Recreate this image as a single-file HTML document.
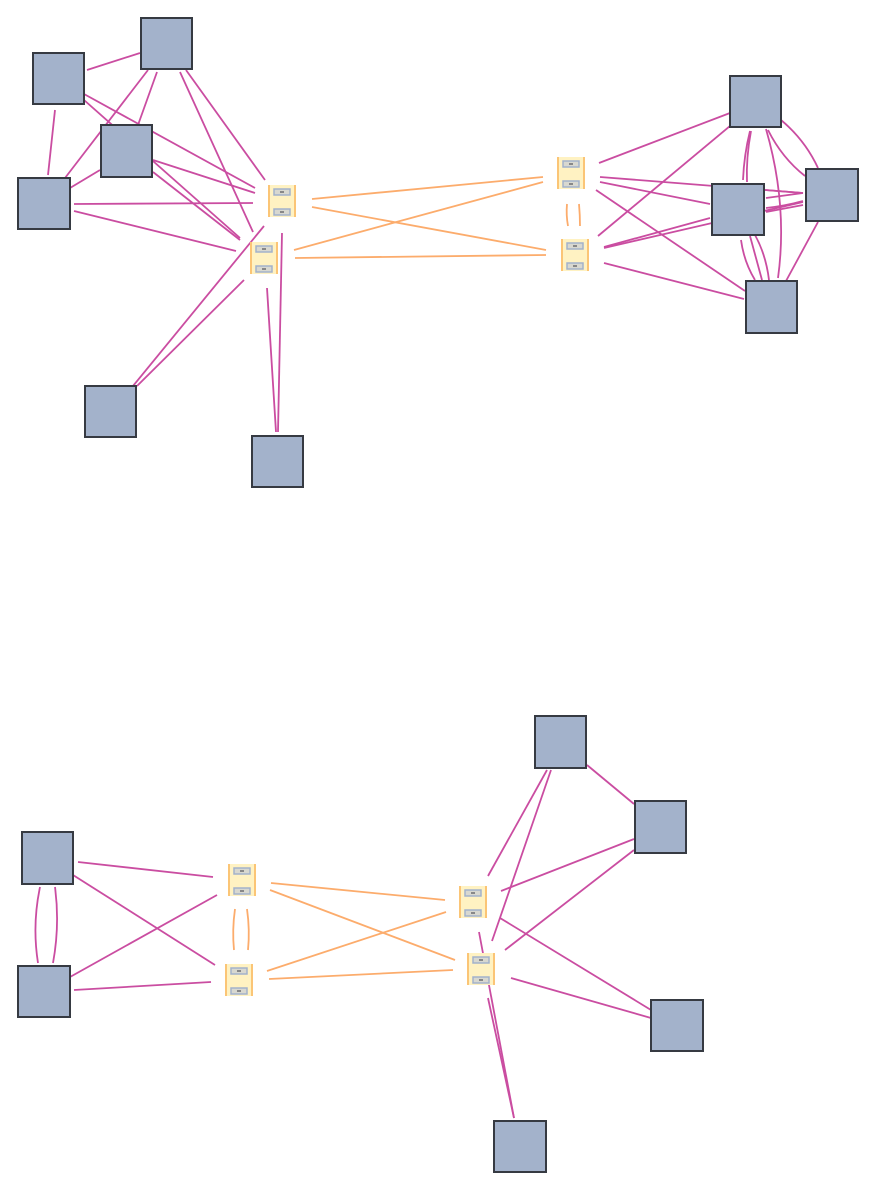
<!DOCTYPE html>
<html><head><meta charset="utf-8"><style>
html,body{margin:0;padding:0;background:#fff;}
svg{display:block}
</style></head><body>
<svg width="876" height="1190" viewBox="0 0 876 1190" xmlns="http://www.w3.org/2000/svg">
<defs>
<g id="sw">
<rect x="-14" y="-16" width="28" height="32" fill="#fff2c2"/>
<rect x="-14" y="-16" width="2" height="32" fill="#fbc576"/>
<rect x="12" y="-16" width="2" height="32" fill="#fbc576"/>
<rect x="-8" y="-12" width="16" height="6" fill="#d8d8d0" stroke="#a3b2cb" stroke-width="1.5"/>
<rect x="-2" y="-10" width="4" height="2" fill="#888"/>
<rect x="-8" y="8" width="16" height="6" fill="#d8d8d0" stroke="#a3b2cb" stroke-width="1.5"/>
<rect x="-2" y="10" width="4" height="2" fill="#888"/>
</g>
</defs>
<g stroke="#c8449c" stroke-width="1.8" fill="none" opacity="0.95">
<!-- top left -->
<line x1="87" y1="70" x2="140" y2="53"/>
<line x1="55" y1="110" x2="48" y2="175"/>
<line x1="84" y1="94" x2="255" y2="188"/>
<line x1="84" y1="100" x2="240" y2="238"/>
<line x1="157" y1="72" x2="138" y2="125"/>
<line x1="148" y1="70" x2="65" y2="178"/>
<line x1="186" y1="70" x2="265" y2="180"/>
<line x1="180" y1="72" x2="253" y2="232"/>
<line x1="100" y1="170" x2="70" y2="188"/>
<line x1="153" y1="160" x2="255" y2="193"/>
<line x1="153" y1="172" x2="240" y2="240"/>
<line x1="74" y1="204" x2="253" y2="203"/>
<line x1="74" y1="211" x2="236" y2="251"/>
<line x1="133" y1="386" x2="264" y2="226"/>
<line x1="137" y1="386" x2="244" y2="280"/>
<line x1="278" y1="432" x2="282" y2="233"/>
<line x1="276" y1="432" x2="267" y2="288"/>
<!-- top right -->
<line x1="599" y1="163" x2="730" y2="113"/>
<line x1="600" y1="177" x2="803" y2="193"/>
<line x1="600" y1="182" x2="710" y2="204"/>
<line x1="596" y1="190" x2="745" y2="291"/>
<line x1="598" y1="236" x2="730" y2="126"/>
<line x1="604" y1="247" x2="710" y2="218"/>
<line x1="604" y1="248" x2="803" y2="202"/>
<line x1="604" y1="263" x2="744" y2="299"/>
<path d="M750 131 Q744 155 743 180"/>
<path d="M751 131 Q746 158 747 182"/>
<path d="M781 120 Q805 140 818 168"/>
<path d="M768 130 Q782 158 805 176"/>
<path d="M766 129 Q788 205 778 278"/>
<line x1="765" y1="190" x2="803" y2="193"/>
<line x1="766" y1="198" x2="803" y2="193"/>
<line x1="766" y1="212" x2="803" y2="205"/>
<path d="M766 208 Q785 206 803 201"/>
<path d="M741 240 Q744 262 755 280"/>
<line x1="750" y1="236" x2="762" y2="280"/>
<path d="M755 235 Q766 255 769 280"/>
<line x1="818" y1="222" x2="786" y2="281"/>
<!-- bottom -->
<path d="M40 887 Q32 925 38 963"/>
<path d="M55 887 Q60 925 53 963"/>
<line x1="78" y1="862" x2="213" y2="877"/>
<line x1="73" y1="875" x2="215" y2="965"/>
<line x1="70" y1="977" x2="217" y2="895"/>
<line x1="74" y1="990" x2="211" y2="982"/>
<line x1="488" y1="876" x2="547" y2="770"/>
<line x1="492" y1="941" x2="551" y2="770"/>
<line x1="587" y1="765" x2="634" y2="804"/>
<line x1="501" y1="891" x2="634" y2="839"/>
<line x1="505" y1="950" x2="634" y2="850"/>
<line x1="500" y1="918" x2="651" y2="1010"/>
<line x1="511" y1="978" x2="651" y2="1018"/>
<line x1="479" y1="932" x2="514" y2="1118"/>
<line x1="488" y1="998" x2="514" y2="1118"/>
</g>
<g stroke="#fcac6c" stroke-width="1.8" fill="none">
<line x1="312" y1="199" x2="543" y2="177"/>
<line x1="312" y1="207" x2="546" y2="250"/>
<line x1="294" y1="250" x2="543" y2="182"/>
<line x1="295" y1="258" x2="546" y2="255"/>
<path d="M567 204 Q566 215 568 226"/>
<path d="M579 204 Q580 215 580 226"/>
<line x1="271" y1="883" x2="445" y2="900"/>
<line x1="270" y1="890" x2="455" y2="960"/>
<line x1="267" y1="971" x2="446" y2="912"/>
<line x1="269" y1="979" x2="453" y2="970"/>
<path d="M235 909 Q232 930 234 950"/>
<path d="M247 909 Q250 930 248 950"/>
</g>
<g fill="#a3b2cb" stroke="#363a42" stroke-width="2">
<rect x="33" y="53" width="51" height="51"/>
<rect x="141" y="18" width="51" height="51"/>
<rect x="101" y="125" width="51" height="52"/>
<rect x="18" y="178" width="52" height="51"/>
<rect x="85" y="386" width="51" height="51"/>
<rect x="252" y="436" width="51" height="51"/>
<rect x="730" y="76" width="51" height="51"/>
<rect x="712" y="184" width="52" height="51"/>
<rect x="806" y="169" width="52" height="52"/>
<rect x="746" y="281" width="51" height="52"/>
<rect x="22" y="832" width="51" height="52"/>
<rect x="18" y="966" width="52" height="51"/>
<rect x="535" y="716" width="51" height="52"/>
<rect x="635" y="801" width="51" height="52"/>
<rect x="651" y="1000" width="52" height="51"/>
<rect x="494" y="1121" width="52" height="51"/>
</g>
<use href="#sw" x="282" y="201"/>
<use href="#sw" x="264" y="258"/>
<use href="#sw" x="571" y="173"/>
<use href="#sw" x="575" y="255"/>
<use href="#sw" x="242" y="880"/>
<use href="#sw" x="239" y="980"/>
<use href="#sw" x="473" y="902"/>
<use href="#sw" x="481" y="969"/>
</svg>
</body></html>
